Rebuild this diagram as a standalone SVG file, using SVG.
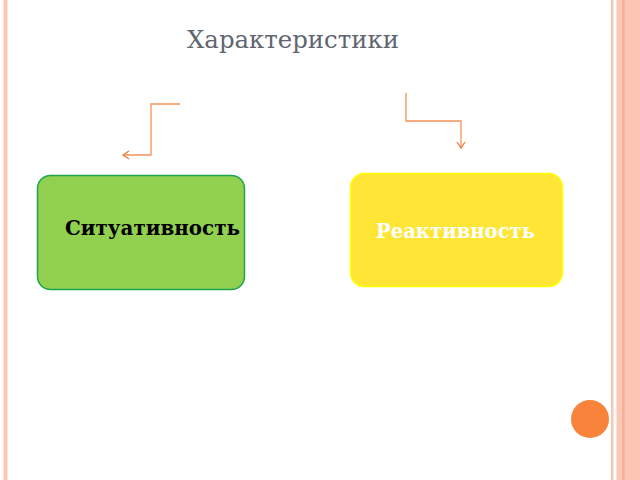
<svg xmlns="http://www.w3.org/2000/svg" width="640" height="480" viewBox="0 0 640 480">
<defs>
<style>
.conn{fill:none;stroke:#f39358;stroke-width:1.3}
.lbl{font-family:"DejaVu Serif","Liberation Serif",serif;font-weight:bold;font-size:20px}
</style>
<marker id="arr" markerWidth="10" markerHeight="10" refX="8" refY="5" orient="auto" markerUnits="userSpaceOnUse">
<path d="M2,1 L8,5 L2,9" fill="none" stroke="#ee7a3e" stroke-width="1.3"/>
</marker>
</defs>
<rect width="640" height="480" fill="#ffffff"/>
<g id="frame">
<rect x="3.5" y="0" width="4" height="480" fill="#fcc6b4"/>
<rect x="611" y="0" width="2.5" height="480" fill="#fcc6b4"/>
<rect x="616.5" y="0" width="23.5" height="480" fill="#fcc6b4"/>
<rect x="622" y="0" width="2.5" height="480" fill="#f7b098"/>
<circle cx="590" cy="419" r="19" fill="#f7843a"/>
</g>
<g id="title">
<text x="187" y="48" font-family="DejaVu Serif,Liberation Serif,serif" font-size="24" fill="#5f6670" textLength="212" lengthAdjust="spacingAndGlyphs">Характеристики</text>
</g>
<g id="connectors">
<path class="conn" d="M180,104 H151 V155 H123" marker-end="url(#arr)"/>
<path class="conn" d="M406,93 V121 H461 V148" marker-end="url(#arr)"/>
</g>
<g id="node-situativnost">
<rect x="37.5" y="175.5" width="207" height="114" rx="13" fill="#92d050" stroke="#1ea550" stroke-width="1.5"/>
<text class="lbl" x="65" y="235" fill="#000000" textLength="175" lengthAdjust="spacingAndGlyphs">Ситуативность</text>
</g>
<g id="node-reaktivnost">
<rect x="350.5" y="173.5" width="212" height="113" rx="14" fill="#ffe535" stroke="#ffff00" stroke-width="1.5"/>
<text class="lbl" x="376" y="238" fill="#ffffff" textLength="159" lengthAdjust="spacingAndGlyphs">Реактивность</text>
</g>
</svg>
